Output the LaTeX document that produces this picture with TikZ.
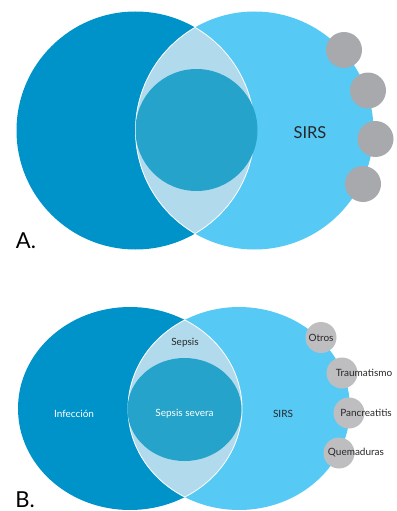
\documentclass[tikz,border=0pt]{standalone}
\usepackage{fontspec}
\setmainfont{Lato}
\definecolor{infec}{RGB}{0,147,201}
\definecolor{sirs}{RGB}{86,202,245}
\definecolor{lens}{RGB}{177,218,236}
\definecolor{severa}{RGB}{37,163,202}
\definecolor{grayA}{RGB}{167,169,172}
\definecolor{grayB}{RGB}{190,190,192}
\definecolor{ink}{RGB}{40,40,42}
\tikzset{
  edge/.style={draw=white, line width=0.8pt},
  panel/.style={font=\fontsize{22}{24}\selectfont, text=black, inner sep=0pt},
  lbl/.style={font=\fontsize{10}{12}\selectfont, inner sep=0pt},
  dark/.style={lbl, text=ink},
  light/.style={lbl, text=white},
}
\begin{document}
\begin{tikzpicture}[x=1pt,y=-1pt]
\useasboundingbox (0,0) rectangle (396,511);

% ---------- A: Venn diagram with circles ----------
\fill[infec] (135.5,130.5) circle (119);
\fill[sirs] (254.5,130.5) circle (119);
\begin{scope}
  \clip (135.5,130.5) circle (119);
  \fill[lens] (254.5,130.5) circle (119);
  \draw[edge] (254.5,130.5) circle (119);
\end{scope}
\begin{scope}
  \clip (254.5,130.5) circle (119);
  \draw[edge] (135.5,130.5) circle (119);
\end{scope}
\fill[severa] (196.5,130) circle (61);
\foreach \cx/\cy in {344/50, 368/90.5, 375.5/139, 363/184}
  \fill[grayA] (\cx,\cy) circle (18);
\node[font=\fontsize{16.5}{18}\selectfont, text=ink] (sirsA) at (310,133) {SIRS};
\node[panel] (labA) at (26,241) {A.};

% ---------- B: Venn diagram with labels ----------
\fill[infec] (130,408.5) ellipse [x radius=112, y radius=101.5];
\fill[sirs] (239,408.5) ellipse [x radius=111, y radius=101.5];
\begin{scope}
  \clip (130,408.5) ellipse [x radius=112, y radius=101.5];
  \fill[lens] (239,408.5) ellipse [x radius=111, y radius=101.5];
  \draw[edge] (239,408.5) ellipse [x radius=111, y radius=101.5];
\end{scope}
\begin{scope}
  \clip (239,408.5) ellipse [x radius=111, y radius=101.5];
  \draw[edge] (130,408.5) ellipse [x radius=112, y radius=101.5];
\end{scope}
\fill[severa] (184.5,409.5) ellipse [x radius=57, y radius=51.5];
\foreach \cx/\cy in {321/337.5, 342/373, 349/413, 339/453}
  \fill[grayB] (\cx,\cy) circle (15.5);

\node[light] (infeccion) at (74,414) {Infección};
\node[dark] (sepsis) at (185,343) {Sepsis};
\node[light] (severa) at (184.5,414) {Sepsis severa};
\node[dark] (sirsB) at (283,414) {SIRS};
\node[dark] (otros) at (321,337.5) {Otros};
\node[dark] (trauma) at (364,373) {Traumatismo};
\node[dark] (pancrea) at (366,413) {Pancreatitis};
\node[dark] (quema) at (356,453) {Quemaduras};
\node[panel] (labB) at (25,499.5) {B.};
\end{tikzpicture}
\end{document}
